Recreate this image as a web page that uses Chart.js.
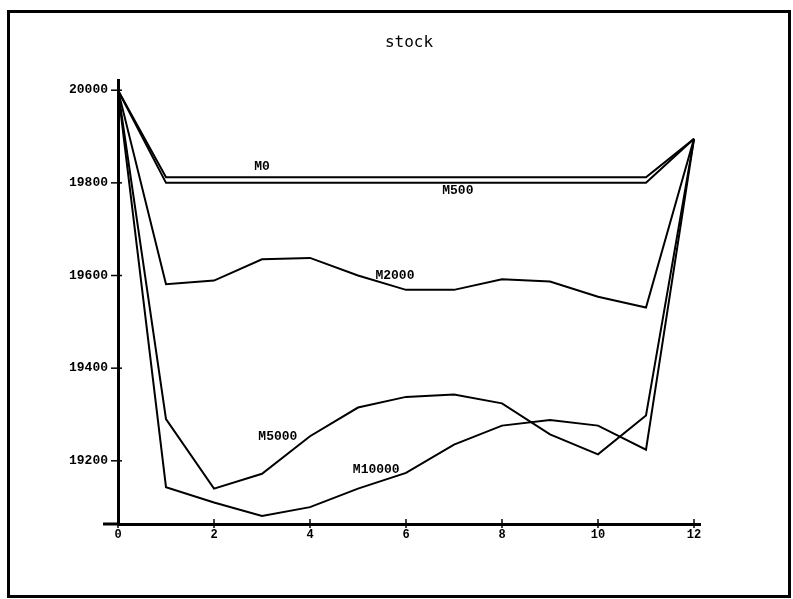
<!DOCTYPE html>
<html>
<head>
<meta charset="utf-8">
<script src="https://cdn.jsdelivr.net/npm/chart.js@4.4.1/dist/chart.umd.min.js"></script>
<style>
  html, body { margin: 0; padding: 0; background: #fff; }
  #wrap { width: 793px; height: 599px; }
</style>
</head>
<body>
<div id="wrap"><canvas id="grafico" width="793" height="599"></canvas></div>
<script>
// === DADOS ===
const meses = [0, 1, 2, 3, 4, 5, 6, 7, 8, 9, 10, 11, 12];

const serieM0     = [20000, 19812, 19812, 19812, 19812, 19812, 19812, 19812, 19812, 19812, 19812, 19812, 19895];
const serieM500   = [20000, 19800, 19800, 19800, 19800, 19800, 19800, 19800, 19800, 19800, 19800, 19800, 19895];
const serieM2000  = [20000, 19581, 19589, 19635, 19638, 19600, 19569, 19569, 19592, 19587, 19554, 19531, 19895];
const serieM5000  = [20000, 19290, 19140, 19172, 19253, 19315, 19338, 19343, 19324, 19257, 19214, 19298, 19895];
const serieM10000 = [20000, 19143, 19110, 19081, 19100, 19140, 19174, 19235, 19276, 19288, 19276, 19224, 19895];

const nomesSeries = ['M0', 'M500', 'M2000', 'M5000', 'M10000'];

const ticksX = [0, 2, 4, 6, 8, 10, 12];
const ticksY = [19200, 19400, 19600, 19800, 20000];

// rótulos das curvas, em coordenadas dos dados
const rotulos = [
  { texto: 'M0',     x: 3.0,  y: 19834 },
  { texto: 'M500',   x: 7.08, y: 19782 },
  { texto: 'M2000',  x: 5.77, y: 19599 },
  { texto: 'M5000',  x: 3.33, y: 19253 },
  { texto: 'M10000', x: 5.38, y: 19181 }
];

const todasSeries = [serieM0, serieM500, serieM2000, serieM5000, serieM10000];

const datasets = todasSeries.map((serie, i) => ({
  label: nomesSeries[i],
  data: meses.map((m, j) => ({ x: m, y: serie[j] })),
  borderColor: '#000',
  borderWidth: 2,
  pointRadius: 0,
  fill: false,
  tension: 0
}));

const fonteEixo = { family: 'Liberation Mono', size: 13, weight: 'bold' };

// === PLUGIN: moldura, marcas cruzadas e rótulos ===
const pluginMarcas = {
  id: 'marcas',
  afterDraw(chart) {
    const { ctx, chartArea, scales } = chart;
    ctx.save();
    ctx.strokeStyle = '#000';

    // moldura externa
    ctx.lineWidth = 3;
    ctx.strokeRect(8.5, 11.5, 781, 585);

    // extensão do eixo x para a esquerda
    ctx.beginPath();
    ctx.moveTo(chartArea.left - 15, chartArea.bottom);
    ctx.lineTo(chartArea.left, chartArea.bottom);
    ctx.stroke();

    // marcas que cruzam os eixos
    ctx.lineWidth = 1.5;
    ticksY.forEach(v => {
      const py = scales.y.getPixelForValue(v);
      ctx.beginPath();
      ctx.moveTo(chartArea.left - 7, py);
      ctx.lineTo(chartArea.left + 4, py);
      ctx.stroke();
    });
    ticksX.forEach(v => {
      const px = scales.x.getPixelForValue(v);
      ctx.beginPath();
      ctx.moveTo(px, chartArea.bottom - 5);
      ctx.lineTo(px, chartArea.bottom + 4);
      ctx.stroke();
    });

    // nomes das curvas
    ctx.fillStyle = '#000';
    ctx.font = 'bold 13px "Liberation Mono"';
    ctx.textAlign = 'center';
    ctx.textBaseline = 'middle';
    rotulos.forEach(r => {
      ctx.fillText(r.texto, scales.x.getPixelForValue(r.x), scales.y.getPixelForValue(r.y));
    });
    ctx.restore();
  }
};

// === GRÁFICO ===
const ctx = document.getElementById('grafico');

new Chart(ctx, {
  type: 'line',
  data: { datasets: datasets },
  options: {
    responsive: false,
    animation: false,
    layout: { padding: { left: 0, right: 93, top: 0, bottom: 0 } },
    plugins: {
      legend: { display: false },
      tooltip: { enabled: false },
      title: {
        display: true,
        text: 'stock',
        fullSize: false,
        color: '#000',
        font: { family: 'DejaVu Sans Mono', size: 16, weight: 'normal' },
        padding: { top: 33, bottom: 28 }
      }
    },
    scales: {
      x: {
        type: 'linear',
        min: 0,
        max: 12.125,
        afterBuildTicks: s => { s.ticks = ticksX.map(v => ({ value: v })); },
        afterFit: s => { s.height = 75; },
        grid: { display: true, drawOnChartArea: false, drawTicks: false },
        border: { display: true, color: '#000', width: 3 },
        ticks: { color: '#000', padding: 4, maxRotation: 0, autoSkip: false,
                 callback: v => String(v),
                 font: { family: 'Liberation Mono', size: 12, weight: 'bold' } }
      },
      y: {
        type: 'linear',
        min: 19063.6,
        max: 20021.6,
        afterBuildTicks: s => { s.ticks = ticksY.map(v => ({ value: v })); },
        afterFit: s => { s.width = 118; },
        grid: { display: true, drawOnChartArea: false, drawTicks: false },
        border: { display: true, color: '#000', width: 3 },
        ticks: { color: '#000', padding: 10, font: fonteEixo, callback: v => String(v) }
      }
    }
  },
  plugins: [pluginMarcas]
});
</script>
</body>
</html>
